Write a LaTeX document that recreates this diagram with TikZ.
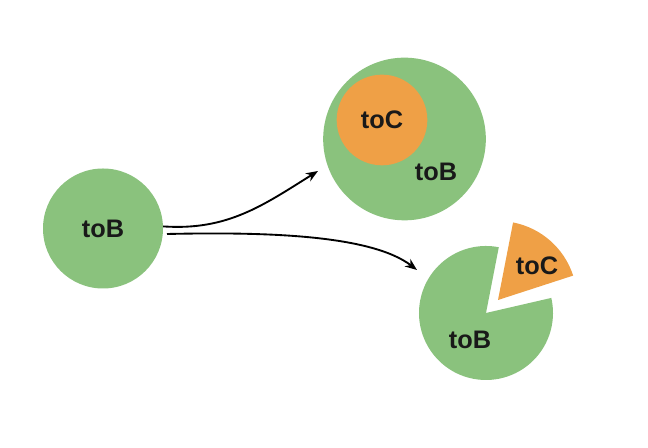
\documentclass[tikz,border=0pt]{standalone}
\usepackage{fontspec}
\setmainfont{Liberation Sans}
\usetikzlibrary{arrows.meta}
\definecolor{pgreen}{RGB}{138,194,125}
\definecolor{porange}{RGB}{239,160,70}
\begin{document}
\begin{tikzpicture}[x=0.75pt,y=0.75pt,
  lbl/.style={font=\bfseries\fontsize{19}{19}\selectfont, text=black!90},
  conn/.style={line width=1.4pt, -{Stealth[length=9pt,width=7pt]}}]
\useasboundingbox (0,0) rectangle (648,448);
\fill[white] (0,0) rectangle (648,448);
% left circle
\node[circle, fill=pgreen, minimum size=90pt, inner sep=0pt, lbl] (A) at (103,219.5) {toB};
% top right circle with inner circle
\node[circle, fill=pgreen, minimum size=122pt, inner sep=0pt] (B) at (404.5,309) {};
\node[circle, fill=porange, minimum size=68pt, inner sep=0pt, lbl] (C) at (382,328) {toC};
\node[lbl] (Blbl) at (436,276) {toB};
% bottom pie
\coordinate (P) at (486,135);
\fill[pgreen] (P) -- ++(79:67) arc[start angle=79, end angle=373, radius=67] -- cycle;
\coordinate (Q) at (498,148);
\fill[porange] (Q) -- ++(18:79) arc[start angle=18, end angle=79, radius=79] -- cycle;
\node[lbl] (D) at (537,182) {toC};
\node[lbl] (E) at (470,108) {toB};
% connectors
\coordinate (e1) at (318,277);
\coordinate (e2) at (417,178);
\coordinate (s2) at (167,214);
\draw[conn] (A.2) to[out=-4,in=212] (e1);
\draw[conn] (s2) .. controls (260,216) and (370,214) .. (e2);
\end{tikzpicture}
\end{document}
